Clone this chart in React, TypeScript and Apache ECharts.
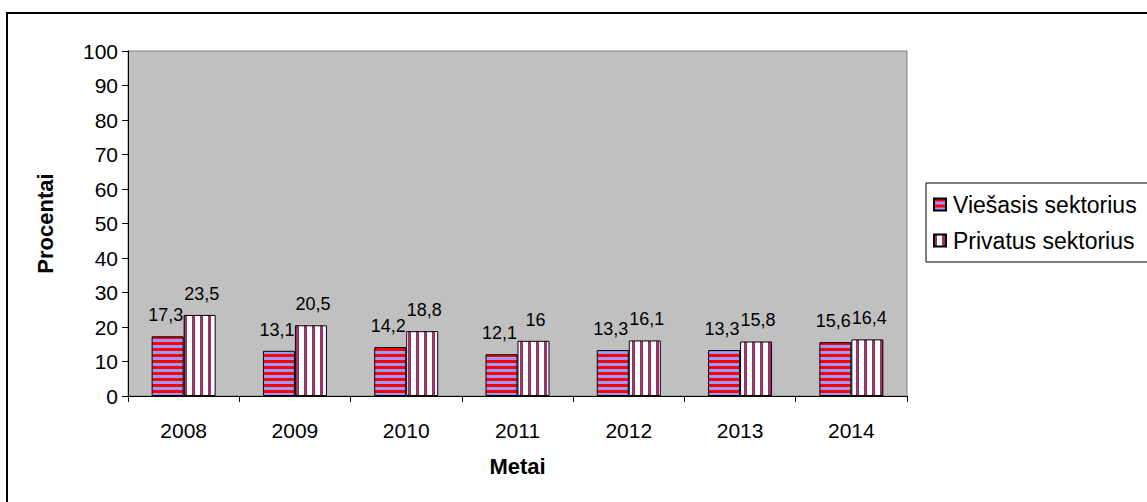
import React, { useEffect, useRef } from "react";
import * as echarts from "echarts";

const years = ["2008", "2009", "2010", "2011", "2012", "2013", "2014"];
const publicSector = [17.3, 13.1, 14.2, 12.1, 13.3, 13.3, 15.6];
const privateSector = [23.5, 20.5, 18.8, 16, 16.1, 15.8, 16.4];
const yTicks = { min: 0, max: 100, interval: 10 };

const FONT = "'Liberation Sans', Arial, sans-serif";

function makeHStripes(): HTMLCanvasElement {
  const c = document.createElement("canvas");
  c.width = 6;
  c.height = 6;
  const ctx = c.getContext("2d")!;
  ctx.fillStyle = "#9999FF";
  ctx.fillRect(0, 0, 6, 6);
  ctx.fillStyle = "#FF0000";
  ctx.fillRect(0, 0, 6, 3);
  return c;
}

function makeVStripes(): HTMLCanvasElement {
  const c = document.createElement("canvas");
  c.width = 8;
  c.height = 8;
  const ctx = c.getContext("2d")!;
  ctx.fillStyle = "#FFFFFF";
  ctx.fillRect(0, 0, 8, 8);
  ctx.fillStyle = "#993366";
  ctx.fillRect(0, 0, 3, 8);
  return c;
}

export default function App() {
  const ref = useRef<HTMLDivElement>(null);
  useEffect(() => {
    if (!ref.current) return;
    const chart = echarts.init(ref.current, undefined, { renderer: "svg" });
    const hPat = { image: makeHStripes(), repeat: "repeat" } as any;
    const vPat = { image: makeVStripes(), repeat: "repeat" } as any;
    const fmt = (p: any) => String(p.value).replace(".", ",");
    chart.setOption({
      animation: false,
      backgroundColor: "#FFFFFF",
      textStyle: { fontFamily: FONT, color: "#000" },
      graphic: [
        {
          type: "rect",
          shape: { x: 7, y: 13, width: 1300, height: 700 },
          style: { fill: "none", stroke: "#000", lineWidth: 2 },
          silent: true,
          z: 100,
        },
      ],
      grid: {
        left: 128,
        top: 51,
        right: 240,
        bottom: 106,
        show: true,
        backgroundColor: "#C0C0C0",
        borderColor: "#808080",
        borderWidth: 1,
      },
      legend: {
        orient: "vertical",
        left: 926,
        top: 183,
        backgroundColor: "#FFFFFF",
        borderColor: "#000",
        borderWidth: 1,
        padding: [10, 60, 10, 7],
        itemWidth: 12,
        itemHeight: 12,
        itemGap: 13,
        icon: "rect",
        textStyle: { fontFamily: FONT, fontSize: 23, color: "#000", padding: [0, 0, 0, 2] },
        data: ["Viešasis sektorius", "Privatus sektorius"],
      },
      xAxis: {
        type: "category",
        data: years,
        axisLine: { lineStyle: { color: "#000", width: 1 } },
        axisTick: { show: true, length: 6, lineStyle: { color: "#000" } },
        axisLabel: { fontFamily: FONT, fontSize: 21, color: "#000", margin: 24 },
        name: "Metai",
        nameLocation: "middle",
        nameGap: 59,
        nameTextStyle: { fontFamily: FONT, fontSize: 22, fontWeight: "bold", color: "#000" },
      },
      yAxis: {
        type: "value",
        min: yTicks.min,
        max: yTicks.max,
        interval: yTicks.interval,
        axisLine: { show: true, lineStyle: { color: "#000", width: 1 } },
        axisTick: { show: true, length: 6, lineStyle: { color: "#000" } },
        axisLabel: { fontFamily: FONT, fontSize: 21, color: "#000", margin: 10 },
        splitLine: { show: false },
        name: "Procentai",
        nameLocation: "middle",
        nameGap: 72,
        nameRotate: 90,
        nameTextStyle: { fontFamily: FONT, fontSize: 22, fontWeight: "bold", color: "#000" },
      },
      series: [
        {
          name: "Viešasis sektorius",
          type: "bar",
          data: publicSector,
          barWidth: 32,
          barGap: "0%",
          itemStyle: { color: hPat, borderColor: "#000", borderWidth: 1 },
          label: {
            show: true,
            position: "top",
            distance: 12,
            offset: [-2, 0],
            formatter: fmt,
            fontFamily: FONT,
            fontSize: 18,
            color: "#000",
          },
        },
        {
          name: "Privatus sektorius",
          type: "bar",
          data: privateSector,
          barWidth: 32,
          itemStyle: { color: vPat, borderColor: "#000", borderWidth: 1 },
          label: {
            show: true,
            position: "top",
            distance: 12,
            offset: [2, 0],
            formatter: fmt,
            fontFamily: FONT,
            fontSize: 18,
            color: "#000",
          },
        },
      ],
    });
    return () => chart.dispose();
  }, []);
  return (
    <div
      ref={ref}
      style={{ position: "fixed", left: 0, top: 0, width: 1147, height: 502 }}
    />
  );
}
